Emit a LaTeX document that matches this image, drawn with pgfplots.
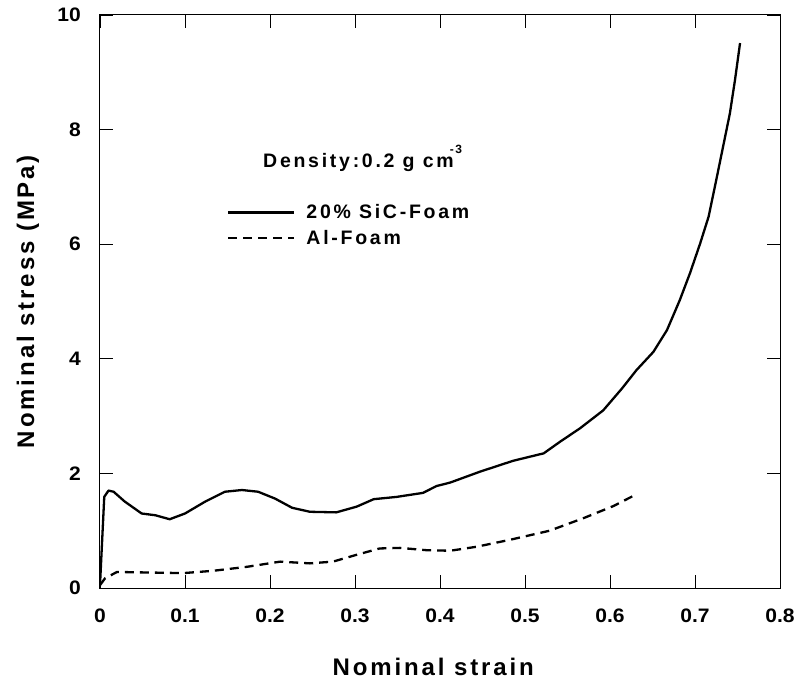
\documentclass[border=0pt]{standalone}
\usepackage{fontspec}
\setmainfont{Liberation Sans}[FakeStretch=1.08]
\newfontfamily\lsfont{Liberation Sans}[LetterSpace=12]
\newfontfamily\lgfont{Liberation Sans}[LetterSpace=14]
\usepackage{pgfplots}
\pgfplotsset{compat=1.18}
\begin{document}
\begin{tikzpicture}
\begin{axis}[
  scale only axis,
  width=680pt, height=573pt,
  xmin=0, xmax=0.8, ymin=0, ymax=10,
  xtick={0,0.1,0.2,0.3,0.4,0.5,0.6,0.7,0.8},
  ytick={0,2,4,6,8,10},
  tick align=inside,
  major tick length=13pt,
  tick style={black, line width=0.8pt},
  axis line style={line width=1pt},
  /pgf/number format/assume math mode=true,
  xticklabel shift=21pt,
  yticklabel shift=19pt,
  xticklabel style={font=\fontsize{19.5}{21}\selectfont\bfseries, inner sep=0pt, anchor=north},
  yticklabel style={font=\fontsize{19.5}{21}\selectfont\bfseries, inner sep=0pt, anchor=east},
  xlabel={Nominal strain},
  ylabel={Nominal stress (MPa)},
  xlabel style={font=\fontsize{24}{26}\selectfont\lsfont\bfseries, at={(axis description cs:0.49,-0.138)}, anchor=center},
  ylabel style={font=\fontsize{24}{26}\selectfont\lsfont\bfseries, at={(axis description cs:-0.106,0.5)}, anchor=center},
  legend style={draw=none, fill=none, at={(axis cs:0.1494,6.73)}, anchor=north west,
    font=\fontsize{19.5}{21}\selectfont\lgfont\bfseries, inner sep=0pt, row sep=6pt,
    cells={anchor=west}},
  legend image code/.code={\draw[#1] (0pt,0pt) -- (66pt,0pt);},
]
\addplot[black, line width=2.3pt, line join=round] coordinates {
(0,0.05) (0.005,1.59) (0.01,1.70) (0.016,1.68) (0.029,1.51) (0.049,1.30) (0.065,1.27) (0.082,1.20)
(0.100,1.30) (0.124,1.51) (0.147,1.68) (0.167,1.71) (0.186,1.68) (0.206,1.56)
(0.226,1.40) (0.247,1.33) (0.278,1.32) (0.302,1.42) (0.322,1.55) (0.349,1.59)
(0.380,1.66) (0.396,1.78) (0.412,1.84) (0.447,2.03) (0.486,2.22) (0.522,2.35)
(0.541,2.55) (0.565,2.79) (0.592,3.10) (0.614,3.48) (0.631,3.80) (0.651,4.12)
(0.667,4.50) (0.682,5.02) (0.694,5.49) (0.706,6.01) (0.716,6.48) (0.725,7.12)
(0.733,7.70) (0.741,8.28) (0.747,8.86) (0.753,9.51)
};
\addlegendentry{\hspace{9pt}20\% SiC-Foam}
\addplot[black, line width=2.3pt, dash pattern=on 9pt off 6pt] coordinates {
(0,0.05) (0.006,0.17) (0.02,0.28) (0.059,0.27) (0.098,0.26) (0.133,0.30)
(0.173,0.37) (0.212,0.46) (0.247,0.43) (0.274,0.46) (0.302,0.58) (0.329,0.69)
(0.353,0.70) (0.384,0.66) (0.412,0.65) (0.443,0.72) (0.482,0.84) (0.529,1.00)
(0.569,1.22) (0.604,1.43) (0.629,1.62)
};
\addlegendentry{\hspace{9pt}Al-Foam}
\node[anchor=west, inner sep=0pt, font=\fontsize{19.5}{21}\selectfont\lgfont\bfseries]
  at (axis cs:0.1918,7.50) {Density:0.2 g cm\kern-0.2em\raisebox{0.72em}{\fontsize{12}{12}\selectfont -3}};
\end{axis}
\path (current axis.south west) ++(-100pt,-91pt) rectangle ++(797pt,679pt);
\end{tikzpicture}
\end{document}
